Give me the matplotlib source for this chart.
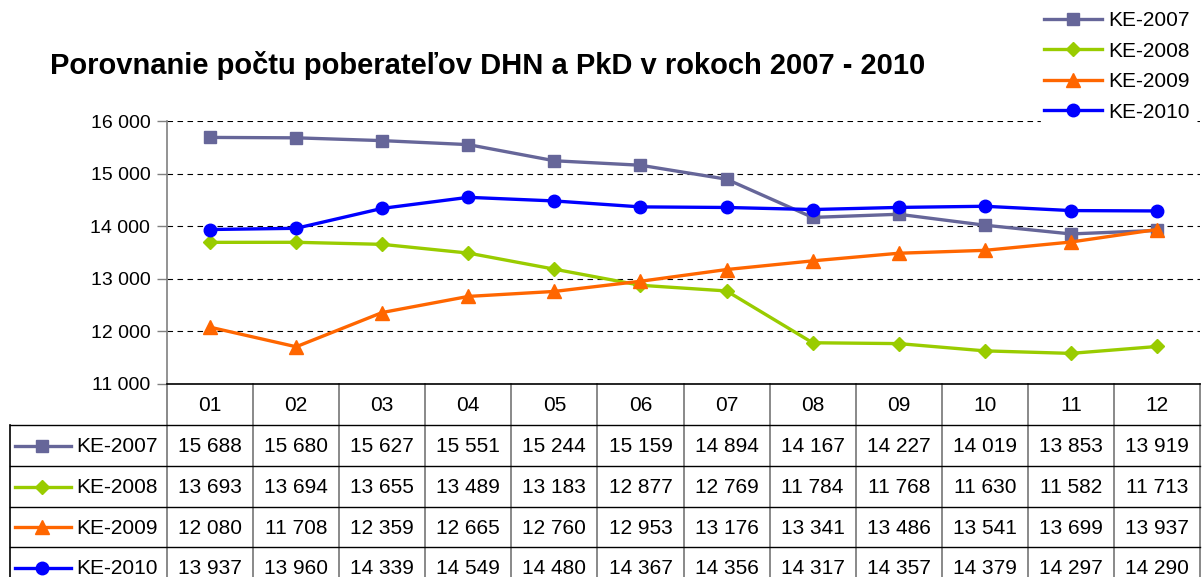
import numpy as np
import matplotlib.pyplot as plt
from matplotlib.lines import Line2D

plt.rcParams['font.family'] = ['Liberation Sans', 'DejaVu Sans']

months = ["01", "02", "03", "04", "05", "06", "07", "08", "09", "10", "11", "12"]
names = ["KE-2007", "KE-2008", "KE-2009", "KE-2010"]
ke2007 = [15688, 15680, 15627, 15551, 15244, 15159, 14894, 14167, 14227, 14019, 13853, 13919]
ke2008 = [13693, 13694, 13655, 13489, 13183, 12877, 12769, 11784, 11768, 11630, 11582, 11713]
ke2009 = [12080, 11708, 12359, 12665, 12760, 12953, 13176, 13341, 13486, 13541, 13699, 13937]
ke2010 = [13937, 13960, 14339, 14549, 14480, 14367, 14356, 14317, 14357, 14379, 14297, 14290]
values = [ke2007, ke2008, ke2009, ke2010]
colors = ["#666699", "#99CC00", "#FF6600", "#0000FF"]
markers = ["s", "D", "^", "o"]
msizes = [8.5, 7.5, 9.5, 9]

W, H = 1203, 577
fig = plt.figure(figsize=(W / 100, H / 100), dpi=100)


def fx(px):
    return px / W


def fy(py):
    return 1 - py / H


def fmt(v):
    return f"{int(v):,}".replace(",", " ")


# chart
x0, x1, ytop, ybot = 167, 1200, 121, 384
ax = fig.add_axes([fx(x0), fy(ybot), fx(x1) - fx(x0), fy(ytop) - fy(ybot)])
x = np.arange(len(months))
for name, vals, c, m, ms in zip(names, values, colors, markers, msizes):
    ax.plot(x, vals, color=c, marker=m, ms=ms, lw=2.4, label=name, zorder=3)
ax.set_xlim(-0.5, len(months) - 0.5)
ax.set_ylim(11000, 16000)
ax.set_yticks(range(11000, 16001, 1000))
ax.yaxis.set_major_formatter(lambda v, p: fmt(v))
ax.set_xticks([])
ax.grid(axis="y", ls=(0, (5, 4)), color="black", lw=0.8)
ax.tick_params(axis="y", direction="out", length=7, width=1, color="#808080",
               labelsize=14, pad=5)
for s in ["top", "right", "bottom"]:
    ax.spines[s].set_visible(False)
ax.spines["left"].set_color("#808080")
ax.spines["left"].set_linewidth(1.2)

fig.text(fx(50), fy(65), "Porovnanie počtu poberateľov DHN a PkD v rokoch 2007 - 2010",
         fontsize=21, fontweight="bold", ha="left", va="center")

fig.legend(loc="upper right", bbox_to_anchor=(fx(1193), fy(8)), fontsize=15,
           handlelength=2.8, handletextpad=0.3, labelspacing=0.55,
           frameon=True, facecolor="white", edgecolor="white", framealpha=1,
           borderpad=0.15, borderaxespad=0)

# table
tab = fig.add_axes([0, 0, 1, fy(ybot)])
tab.set_xlim(0, W)
tab.set_ylim(H, ybot)
tab.axis("off")
colw = (x1 - x0) / len(months)
rows = [384, 425, 466, 507, 547, 588]
left = 10
for i in range(len(months) + 1):
    tab.plot([x0 + i * colw] * 2, [rows[0], H], color="#808080", lw=1.3,
             clip_on=False)
tab.plot([left, left], [rows[1], H], color="black", lw=1.2, clip_on=False)
tab.plot([x0, x1], [rows[0], rows[0]], color="black", lw=1.2, clip_on=False)
for r in rows[1:5]:
    tab.plot([left, x1], [r, r], color="black", lw=1.0, clip_on=False)

for i, m in enumerate(months):
    tab.text(x0 + (i + 0.5) * colw, (rows[0] + rows[1]) / 2 + 1, m,
             fontsize=15, ha="center", va="center")
for j, (name, vals, c, m, ms) in enumerate(zip(names, values, colors, markers, msizes)):
    yc = (rows[j + 1] + rows[j + 2]) / 2
    tab.add_line(Line2D([15, 71], [yc, yc], color=c, lw=2.4, clip_on=False))
    tab.add_line(Line2D([42], [yc], color=c, marker=m, ms=ms, clip_on=False))
    tab.text(76, yc + 1, name, fontsize=15, ha="left", va="center")
    for i, v in enumerate(vals):
        tab.text(x0 + (i + 0.5) * colw, yc + 1, fmt(v), fontsize=15,
                 ha="center", va="center")

fig.savefig("out.png", dpi=100)
